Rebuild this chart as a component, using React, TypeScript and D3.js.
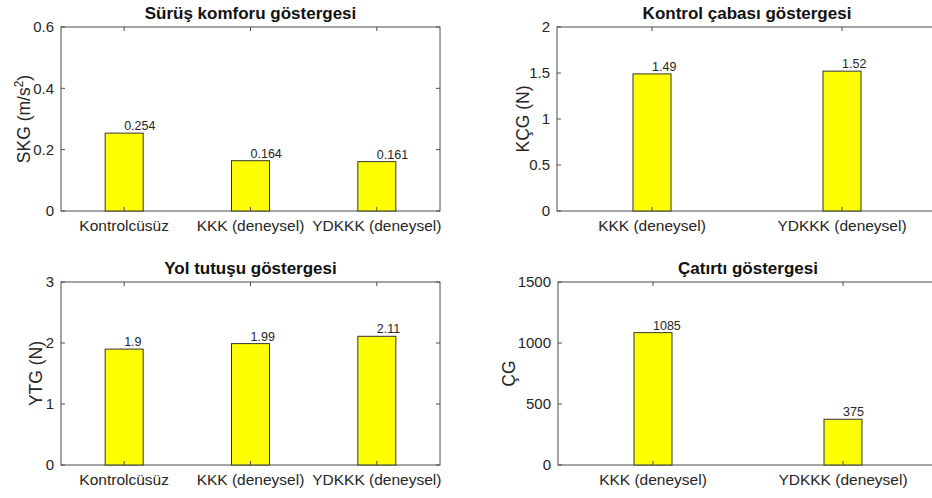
import React from 'react';
import * as d3 from 'd3';

const groups3 = ['Kontrolcüsüz', 'KKK (deneysel)', 'YDKKK (deneysel)'];
const groups2 = ['KKK (deneysel)', 'YDKKK (deneysel)'];

const rideComfort = [0.254, 0.164, 0.161];
const controlEffort = [1.49, 1.52];
const roadHolding = [1.9, 1.99, 2.11];
const rattle = [1085, 375];

const rideTicks = [0, 0.2, 0.4, 0.6];
const controlTicks = [0, 0.5, 1, 1.5, 2];
const roadTicks = [0, 1, 2, 3];
const rattleTicks = [0, 500, 1000, 1500];

const FONT = '"Liberation Sans", Arial, Helvetica, sans-serif';
const AXIS = '#4d4d4d';
const TEXT = '#262626';

type PanelProps = {
  x: number;
  y: number;
  w: number;
  h: number;
  title: string;
  ylabel: React.ReactNode;
  ylabelGap: number;
  cats: string[];
  values: number[];
  ticks: number[];
  fmt: (v: number) => string;
};

function Panel({ x, y, w, h, title, ylabel, ylabelGap, cats, values, ticks, fmt }: PanelProps) {
  // matlab style: categories at 1..n, xlim [0.5, n+0.5]
  const xs = d3.scaleLinear().domain([0.5, cats.length + 0.5]).range([0, w]);
  const ys = d3.scaleLinear().domain([ticks[0], ticks[ticks.length - 1]]).range([h, 0]);
  const barW = 38;
  const tl = 4;

  return (
    <g transform={`translate(${x},${y})`} fontFamily={FONT}>
      <rect x={0} y={0} width={w} height={h} fill="white" stroke={AXIS} strokeWidth={1} />
      {ticks.map((t) => (
        <g key={t}>
          <line x1={0} x2={tl} y1={ys(t)} y2={ys(t)} stroke={AXIS} />
          <line x1={w} x2={w - tl} y1={ys(t)} y2={ys(t)} stroke={AXIS} />
          <text x={-7} y={ys(t)} dy="0.35em" textAnchor="end" fontSize={15} fill={TEXT}>
            {fmt(t)}
          </text>
        </g>
      ))}
      {values.map((v, i) => {
        const cx = xs(i + 1);
        return (
          <g key={i}>
            <rect
              x={cx - barW / 2}
              y={ys(v)}
              width={barW}
              height={h - ys(v)}
              fill="#ffff00"
              stroke="#333333"
              strokeWidth={1}
            />
            <text x={cx} y={ys(v) - 3} fontSize={12.5} fill={TEXT}>
              {String(v)}
            </text>
          </g>
        );
      })}
      {cats.map((c, i) => (
        <g key={c}>
          <line x1={xs(i + 1)} x2={xs(i + 1)} y1={h} y2={h - tl} stroke={AXIS} />
          <line x1={xs(i + 1)} x2={xs(i + 1)} y1={0} y2={tl} stroke={AXIS} />
          <text x={xs(i + 1)} y={h + 20} textAnchor="middle" fontSize={15.5} fill={TEXT}>
            {c}
          </text>
        </g>
      ))}
      <text x={w / 2} y={-8} textAnchor="middle" fontSize={17} fontWeight="bold" fill="#111">
        {title}
      </text>
      <text
        transform={`translate(${-ylabelGap},${h / 2}) rotate(-90)`}
        textAnchor="middle"
        fontSize={17.5}
        fill={TEXT}
      >
        {ylabel}
      </text>
    </g>
  );
}

export default function App() {
  const f1 = (v: number) => (v === 0 ? '0' : v.toFixed(1));
  const fg = (v: number) => String(v);
  return (
    <svg
      width={932}
      height={498}
      style={{ position: 'absolute', left: 0, top: 0, background: 'white' }}
    >
      <Panel
        x={61}
        y={27}
        w={379}
        h={184}
        title="Sürüş komforu göstergesi"
        ylabel={
          <>
            SKG (m/s<tspan baselineShift="super" fontSize={12}>2</tspan>)
          </>
        }
        ylabelGap={31}
        cats={groups3}
        values={rideComfort}
        ticks={rideTicks}
        fmt={f1}
      />
      <Panel
        x={557}
        y={27}
        w={380}
        h={184}
        title="Kontrol çabası göstergesi"
        ylabel="KÇG (N)"
        ylabelGap={28}
        cats={groups2}
        values={controlEffort}
        ticks={controlTicks}
        fmt={fg}
      />
      <Panel
        x={61}
        y={282}
        w={379}
        h={183}
        title="Yol tutuşu göstergesi"
        ylabel="YTG (N)"
        ylabelGap={19}
        cats={groups3}
        values={roadHolding}
        ticks={roadTicks}
        fmt={fg}
      />
      <Panel
        x={558}
        y={282}
        w={380}
        h={183}
        title="Çatırtı göstergesi"
        ylabel="ÇG"
        ylabelGap={43}
        cats={groups2}
        values={rattle}
        ticks={rattleTicks}
        fmt={fg}
      />
    </svg>
  );
}
